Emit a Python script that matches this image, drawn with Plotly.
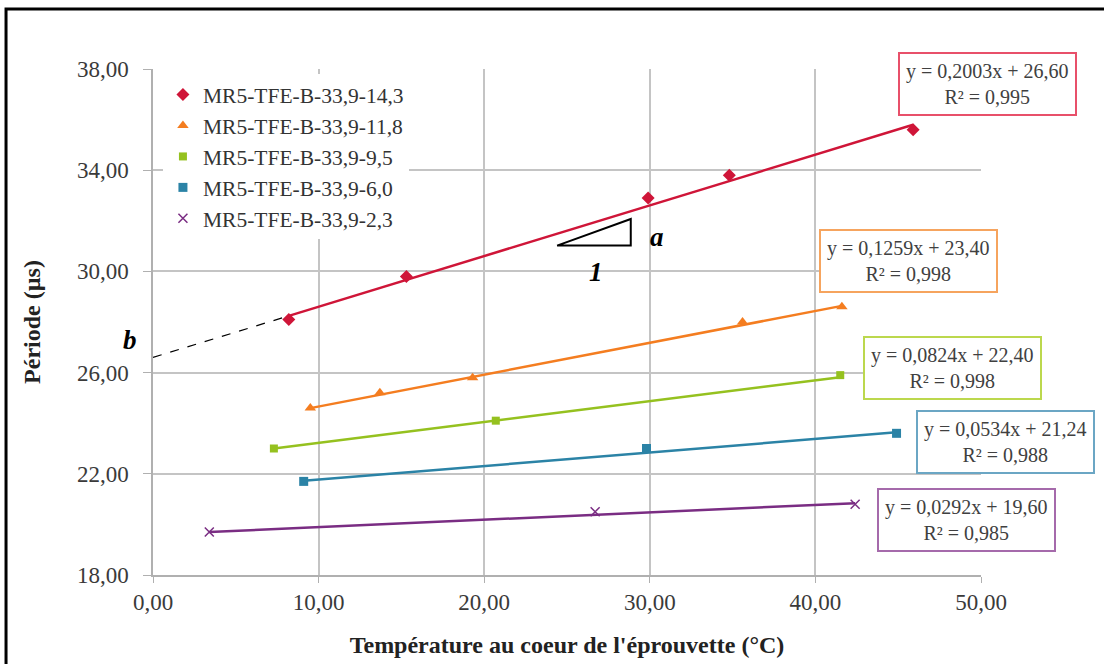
import plotly.graph_objects as go

# Measured series: core temperature (°C) vs period (µs)
series_names = [
    "MR5-TFE-B-33,9-14,3",
    "MR5-TFE-B-33,9-11,8",
    "MR5-TFE-B-33,9-9,5",
    "MR5-TFE-B-33,9-6,0",
    "MR5-TFE-B-33,9-2,3",
]
temp_14_3 = [8.2, 15.3, 29.9, 34.8, 45.9]
period_14_3 = [28.1, 29.8, 32.9, 33.8, 35.6]
temp_11_8 = [9.5, 13.7, 19.3, 35.6, 41.6]
period_11_8 = [24.6, 25.2, 25.8, 28.0, 28.6]
temp_9_5 = [7.3, 20.7, 41.5]
period_9_5 = [23.0, 24.1, 25.9]
temp_6_0 = [9.1, 29.8, 44.9]
period_6_0 = [21.7, 23.0, 23.6]
temp_2_3 = [3.4, 26.7, 42.4]
period_2_3 = [19.7, 20.5, 20.8]

# Linear trend lines y = a x + b and their R²
slopes = [0.2003, 0.1259, 0.0824, 0.0534, 0.0292]
intercepts = [26.60, 23.40, 22.40, 21.24, 19.60]
r_squared = [0.995, 0.998, 0.998, 0.988, 0.985]

# Slope triangle (run 1, rise a) drawn next to the top line
triangle_x = [24.4, 28.85, 28.85, 24.4]
triangle_y = [31.02, 31.02, 32.07, 31.02]

x_ticks = [0, 10, 20, 30, 40, 50]
y_ticks = [18, 22, 26, 30, 34, 38]

X_RANGE = (0, 50)
Y_RANGE = (18, 38)

temps = [temp_14_3, temp_11_8, temp_9_5, temp_6_0, temp_2_3]
periods = [period_14_3, period_11_8, period_9_5, period_6_0, period_2_3]

colors = ["#cf1538", "#f47d20", "#95c11f", "#2b83a6", "#7a2d83"]
box_colors = ["#e8506a", "#f6a45e", "#bcd84e", "#6ba6c4", "#a56aab"]
symbols = ["diamond", "triangle-up", "square", "square", "x-thin"]
marker_sizes = [10, 10, 8, 9, 9]
# centres of the equation boxes, in data units (some sit past the right edge)
eq_pos = [(50.4, 37.42), (45.6, 30.41), (48.25, 26.18), (51.45, 23.26), (49.15, 20.17)]

SERIF = "Liberation Serif"


def to_paper(x, y):
    """Data units -> paper fraction, so labels outside the axes still show."""
    px = (x - X_RANGE[0]) / (X_RANGE[1] - X_RANGE[0])
    py = (y - Y_RANGE[0]) / (Y_RANGE[1] - Y_RANGE[0])
    return px, py


fig = go.Figure()

for i, name in enumerate(series_names):
    xs = temps[i]
    x0, x1 = min(xs), max(xs)
    fig.add_trace(go.Scatter(
        x=[x0, x1],
        y=[slopes[i] * x0 + intercepts[i], slopes[i] * x1 + intercepts[i]],
        mode="lines",
        line=dict(color=colors[i], width=2.5),
        showlegend=False,
        hoverinfo="skip",
    ))

for i, name in enumerate(series_names):
    marker = dict(symbol=symbols[i], size=marker_sizes[i], color=colors[i])
    if symbols[i] == "x-thin":
        marker["line"] = dict(color=colors[i], width=1.5)
    fig.add_trace(go.Scatter(
        x=temps[i], y=periods[i],
        mode="markers",
        name=name,
        legendgroup=name,
        marker=marker,
    ))

# Extrapolation of the top trend line back to the intercept b
x_first = min(temp_14_3)
fig.add_trace(go.Scatter(
    x=[0, x_first],
    y=[intercepts[0], slopes[0] * x_first + intercepts[0]],
    mode="lines",
    line=dict(color="black", width=1.2, dash="dash"),
    showlegend=False,
    hoverinfo="skip",
))

fig.add_trace(go.Scatter(
    x=triangle_x, y=triangle_y,
    mode="lines",
    line=dict(color="black", width=2),
    showlegend=False,
    hoverinfo="skip",
))


def fr(v, d):
    return f"{v:.{d}f}".replace(".", ",")


for i in range(len(series_names)):
    text = f"y = {fr(slopes[i], 4)}x + {fr(intercepts[i], 2)}<br>R² = {fr(r_squared[i], 3)}"
    px, py = to_paper(*eq_pos[i])
    fig.add_annotation(
        x=px, y=py, xref="paper", yref="paper",
        xanchor="center", yanchor="middle",
        text=text, showarrow=False,
        font=dict(family=SERIF, size=20, color="#404040"),
        bgcolor="white", bordercolor=box_colors[i], borderwidth=2, borderpad=6,
        align="center",
    )

for txt, x, y in [("a", 30.45, 31.36), ("1", 26.75, 29.98), ("b", -1.4, 27.3)]:
    px, py = to_paper(x, y)
    fig.add_annotation(
        x=px, y=py, xref="paper", yref="paper",
        xanchor="center", yanchor="middle",
        text=f"<b><i>{txt}</i></b>", showarrow=False,
        font=dict(family=SERIF, size=27, color="black"),
    )

# Outer chart frame
fig.add_shape(type="rect", xref="paper", yref="paper",
              x0=-0.1775, x1=1.16, y0=-0.25, y1=1.1186,
              line=dict(color="black", width=3), layer="above")

fig.update_layout(
    width=1104, height=664,
    margin=dict(l=153, r=123, t=69, b=89),
    paper_bgcolor="white", plot_bgcolor="white",
    separators=", ",
    font=dict(family=SERIF, color="#333333"),
    showlegend=True,
    legend=dict(
        x=0.012, y=0.99, xanchor="left", yanchor="top",
        bgcolor="white", borderwidth=0,
        font=dict(family=SERIF, size=21.5, color="#333333"),
        tracegroupgap=0, itemwidth=30,
    ),
    xaxis=dict(
        range=list(X_RANGE), tickvals=x_ticks, tickformat=".2f",
        showgrid=True, gridcolor="#c4c4c4", gridwidth=1.5,
        showline=True, linecolor="#b0b0b0", linewidth=1.5,
        ticks="outside", ticklen=6, tickcolor="#b0b0b0",
        tickfont=dict(family=SERIF, size=23, color="#3a3a3a"),
        zeroline=False, automargin=False,
        title=dict(text="<b>Température au coeur de l'éprouvette (°C)</b>",
                   font=dict(family=SERIF, size=24, color="#222222"), standoff=22),
    ),
    yaxis=dict(
        range=list(Y_RANGE), tickvals=y_ticks, tickformat=".2f",
        showgrid=True, gridcolor="#c4c4c4", gridwidth=1.5,
        showline=True, linecolor="#b0b0b0", linewidth=1.5,
        ticks="outside", ticklen=8, tickcolor="#b0b0b0",
        tickfont=dict(family=SERIF, size=23, color="#3a3a3a"),
        ticklabelstandoff=10,
        zeroline=False,
        title=dict(text="<b>Période (µs)</b>",
                   font=dict(family=SERIF, size=24, color="#222222"), standoff=30),
    ),
)

fig.write_html("out.html")
